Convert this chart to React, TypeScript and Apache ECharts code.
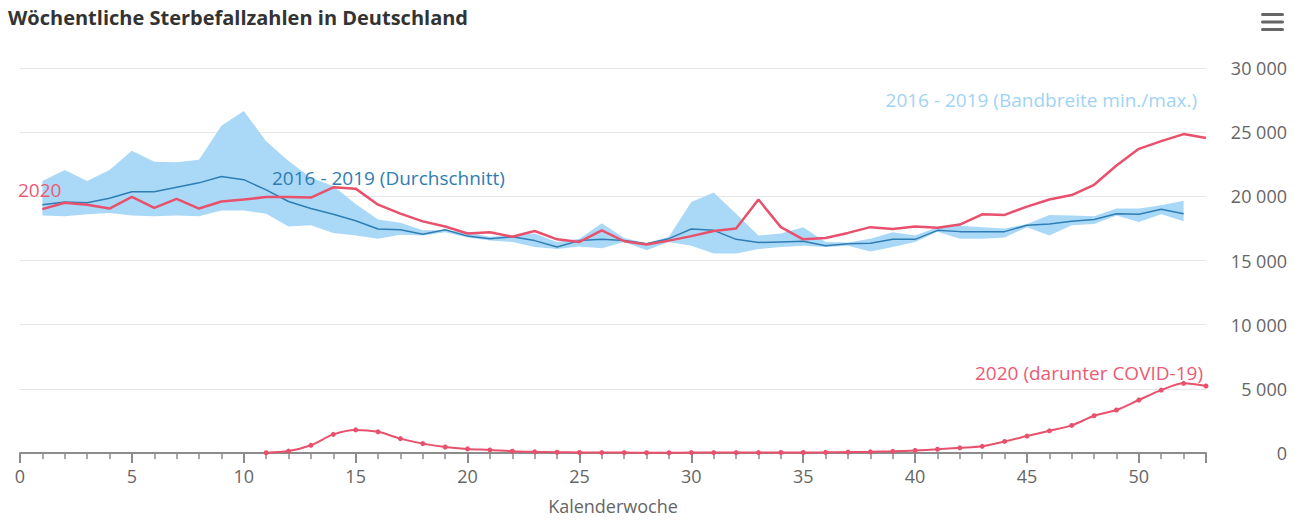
import React, { useEffect, useRef } from "react";
import * as echarts from "echarts";

const title = "Wöchentliche Sterbefallzahlen in Deutschland";
const xAxisName = "Kalenderwoche";

// 2020 weekly deaths, weeks 1..53
const deaths2020 = [
  19000, 19500, 19350, 19050, 19950, 19100, 19800, 19050, 19600, 19750,
  19950, 19950, 19900, 20700, 20600, 19350, 18650, 18050, 17650, 17100,
  17200, 16850, 17300, 16650, 16450, 17350, 16500, 16250, 16550, 16900,
  17300, 17500, 19750, 17600, 16650, 16750, 17150, 17600, 17450, 17650,
  17550, 17800, 18600, 18550, 19200, 19750, 20100, 20900, 22400, 23700,
  24300, 24850, 24550,
];

// 2016-2019 average, weeks 1..52
const avg2016to2019 = [
  19350, 19550, 19500, 19850, 20350, 20350, 20700, 21050, 21550, 21300,
  20500, 19600, 19050, 18600, 18100, 17450, 17400, 17050, 17400, 16900,
  16700, 16850, 16550, 16050, 16550, 16650, 16550, 16300, 16700, 17450,
  17350, 16650, 16400, 16450, 16500, 16150, 16300, 16350, 16650, 16650,
  17350, 17250, 17250, 17250, 17750, 17850, 18050, 18200, 18650, 18600,
  19000, 18650,
];

// 2016-2019 max, weeks 1..52
const max2016to2019 = [
  21200, 22050, 21200, 22050, 23550, 22700, 22650, 22850, 25500, 26650,
  24300, 22750, 21450, 20800, 19400, 18200, 17950, 17350, 17350, 17200,
  16850, 16950, 17100, 16450, 16700, 17900, 16750, 16350, 16850, 19550,
  20300, 18650, 16950, 17100, 17600, 16450, 16400, 16700, 17200, 16950,
  17600, 17700, 17600, 17500, 17850, 18550, 18500, 18450, 19050, 19050,
  19300, 19650,
];

// 2016-2019 min, weeks 1..52
const min2016to2019 = [
  18500, 18450, 18600, 18700, 18500, 18450, 18500, 18450, 18900, 18900,
  18650, 17650, 17750, 17150, 16950, 16700, 17000, 16950, 17200, 16800,
  16550, 16450, 16050, 15900, 16100, 15950, 16450, 15800, 16450, 16150,
  15550, 15550, 15900, 16050, 16150, 16050, 16150, 15700, 16050, 16450,
  17250, 16700, 16700, 16800, 17600, 16950, 17750, 17850, 18500, 18000,
  18600, 18050,
];

// 2020 COVID-19 deaths, weeks 11..53
const covidFirstWeek = 11;
const covid2020 = [
  20, 150, 600, 1450, 1800, 1650, 1120, 730, 470, 320,
  240, 140, 90, 60, 40, 30, 30, 20, 20, 30,
  30, 30, 30, 40, 40, 50, 70, 90, 130, 200,
  290, 400, 520, 900, 1320, 1730, 2150, 2900, 3350, 4130,
  4900, 5430, 5220,
];

const labelTexts = {
  y2020: "2020",
  avg: "2016 - 2019 (Durchschnitt)",
  band: "2016 - 2019 (Bandbreite min./max.)",
  covid: "2020 (darunter COVID-19)",
};

const RED = "#e8506c";
const DARKBLUE = "#2f7db3";
const LIGHTBLUE = "#aad9f8";
const FONT = "'Open Sans', sans-serif";

export default function App() {
  const ref = useRef<HTMLDivElement>(null);

  useEffect(() => {
    if (!ref.current) return;
    const chart = echarts.init(ref.current, null, { renderer: "svg" });

    const toPairs = (arr: number[], start: number) => arr.map((v, i) => [i + start, v]);
    const bandData = min2016to2019.map((v, i) => [i + 1, v, max2016to2019[i]]);

    const option: any = {
      animation: false,
      backgroundColor: "#ffffff",
      textStyle: { fontFamily: FONT },
      grid: { left: 20, right: 93, top: 68, bottom: 65, containLabel: false },
      xAxis: {
        type: "value",
        min: 0,
        max: 53,
        interval: 5,
        name: xAxisName,
        nameLocation: "middle",
        nameGap: 44,
        nameTextStyle: { color: "#666", fontSize: 18, fontFamily: FONT },
        axisLine: { show: true, onZero: false, lineStyle: { color: "#8c8c8c", width: 2 } },
        axisTick: { show: true, length: 10, lineStyle: { color: "#8c8c8c", width: 2 } },
        minorTick: { show: true, splitNumber: 5, length: 6, lineStyle: { color: "#8c8c8c", width: 1.5 } },
        axisLabel: { color: "#666", fontSize: 18, margin: 14, fontFamily: FONT, showMaxLabel: false },
        splitLine: { show: false },
      },
      yAxis: {
        type: "value",
        position: "right",
        min: 0,
        max: 30000,
        interval: 5000,
        axisLine: { show: false },
        axisTick: { show: false },
        axisLabel: {
          color: "#666",
          fontSize: 18,
          align: "right",
          margin: 81,
          fontFamily: FONT,
          formatter: (v: number) => String(v).replace(/\B(?=(\d{3})+(?!\d))/g, " "),
        },
        splitLine: { show: true, lineStyle: { color: "#e6e6e6", width: 1 } },
      },
      series: [
        {
          name: "band",
          type: "custom",
          data: bandData,
          encode: { x: 0, y: [1, 2] },
          silent: true,
          z: 1,
          renderItem: (params: any, api: any) => {
            if (params.dataIndex !== 0) return null;
            const n = params.dataInsideLength;
            const top: number[][] = [];
            const bottom: number[][] = [];
            for (let i = 0; i < n; i++) {
              const wk = api.value(0, i);
              top.push(api.coord([wk, api.value(2, i)]));
              bottom.push(api.coord([wk, api.value(1, i)]));
            }
            return {
              type: "polygon",
              shape: { points: top.concat(bottom.reverse()) },
              style: { fill: LIGHTBLUE },
            };
          },
        },
        {
          name: "avg",
          type: "line",
          data: toPairs(avg2016to2019, 1),
          symbol: "none",
          lineStyle: { color: DARKBLUE, width: 1.5 },
          z: 2,
        },
        {
          name: "2020",
          type: "line",
          data: toPairs(deaths2020, 1),
          symbol: "none",
          lineStyle: { color: RED, width: 2.5 },
          z: 3,
        },
        {
          name: "covid",
          type: "line",
          data: toPairs(covid2020, covidFirstWeek),
          smooth: 0.3,
          symbol: "circle",
          symbolSize: 5,
          showSymbol: true,
          itemStyle: { color: RED },
          lineStyle: { color: RED, width: 2 },
          z: 3,
        },
      ],
      graphic: [
        {
          type: "text",
          left: 8,
          top: 7,
          z: 100,
          style: { text: title, fill: "#333", font: `bold 20px ${FONT}` },
        },
        { type: "rect", z: 100, shape: { x: 1261, y: 13, width: 23, height: 3, r: 1.5 }, style: { fill: "#666" } },
        { type: "rect", z: 100, shape: { x: 1261, y: 20.5, width: 23, height: 3, r: 1.5 }, style: { fill: "#666" } },
        { type: "rect", z: 100, shape: { x: 1261, y: 28, width: 23, height: 3, r: 1.5 }, style: { fill: "#666" } },
        {
          type: "text",
          x: 18,
          y: 190,
          z: 100,
          style: { text: labelTexts.y2020, fill: "#ec5a74", font: `19px ${FONT}`, verticalAlign: "middle" },
        },
        {
          type: "text",
          x: 272,
          y: 178,
          z: 100,
          style: { text: labelTexts.avg, fill: DARKBLUE, font: `19px ${FONT}`, verticalAlign: "middle" },
        },
        {
          type: "text",
          x: 1197,
          y: 100,
          z: 100,
          style: { text: labelTexts.band, fill: "#9fd3f6", font: `19px ${FONT}`, align: "right", verticalAlign: "middle" },
        },
        {
          type: "text",
          x: 1203,
          y: 373,
          z: 100,
          style: { text: labelTexts.covid, fill: "#ec5a74", font: `19px ${FONT}`, align: "right", verticalAlign: "middle" },
        },
      ],
    };

    chart.setOption(option);
    return () => chart.dispose();
  }, []);

  return (
    <div
      ref={ref}
      style={{ position: "fixed", left: 0, top: 0, width: 1299, height: 520, background: "#fff" }}
    />
  );
}
